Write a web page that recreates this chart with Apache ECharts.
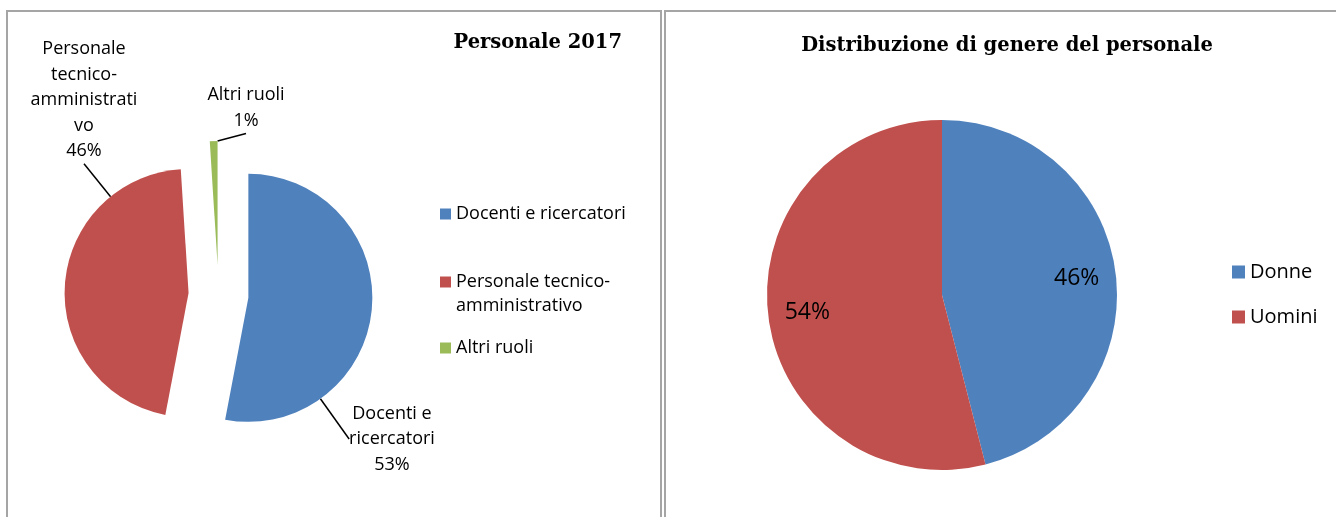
<!DOCTYPE html>
<html>
<head>
<meta charset="utf-8">
<script src="https://cdn.jsdelivr.net/npm/echarts@6/dist/echarts.min.js"></script>
<style>
  html, body { margin: 0; padding: 0; background: #fff; }
  #chart { width: 1336px; height: 517px; }
</style>
</head>
<body>
<div id="chart"></div>
<script>
// Personale 2017
const ruoli = ['Docenti e ricercatori', 'Personale tecnico-amministrativo', 'Altri ruoli'];
const valoriRuoli = [53, 46, 1];
const etichetteRuoli = ['Docenti e\nricercatori', 'Personale\ntecnico-\namministrati\nvo', 'Altri ruoli'];
// la riga vuota iniziale allinea l'icona alla prima riga del testo
const legendaRuoli = ['Docenti e ricercatori', '\nPersonale tecnico-\namministrativo', 'Altri ruoli'];

// Distribuzione di genere del personale
const generi = ['Donne', 'Uomini'];
const valoriGeneri = [46, 54];

const colori = ['#4f81bd', '#c0504d', '#9bbb59'];
const fontTesto = 'Open Sans';
const fontTitolo = 'DejaVu Serif';

const centroRuoli = [218.5, 295];
const esplosione = 30;
// posizione (centro) delle etichette esterne della prima torta
const posEtichette = [[392, 439], [84, 100], [246, 108]];
const legendaTop = [202, 246, 336];
const centroGeneri = [942, 295];

const chart = echarts.init(document.getElementById('chart'));

// torta "esplosa": una serie per spicchio, spostata lungo la bisettrice
const totaleRuoli = valoriRuoli.reduce((a, b) => a + b, 0);
let cumulato = 0;
const serieRuoli = ruoli.map((nome, k) => {
  const medio = (cumulato + valoriRuoli[k] / 2) / totaleRuoli * 2 * Math.PI;
  cumulato += valoriRuoli[k];
  return {
    type: 'pie',
    center: [centroRuoli[0] + esplosione * Math.sin(medio), centroRuoli[1] - esplosione * Math.cos(medio)],
    radius: 124,
    startAngle: 90,
    clockwise: true,
    silent: true,
    data: ruoli.map((n, i) => ({
      name: n,
      value: valoriRuoli[i],
      itemStyle: { color: i === k ? colori[i] : 'transparent' },
      label: { show: i === k },
      labelLine: { show: i === k }
    })),
    label: {
      position: 'inside',
      formatter: p => etichetteRuoli[p.dataIndex] + '\n' + Math.round(p.percent) + '%',
      fontFamily: fontTesto,
      fontSize: 18,
      lineHeight: 25.5,
      color: '#000',
      align: 'center'
    },
    labelLine: { length: 0, length2: 0, lineStyle: { color: '#000', width: 1.5 } },
    labelLayout: p => ({
      x: posEtichette[p.dataIndex][0],
      y: posEtichette[p.dataIndex][1],
      align: 'center',
      verticalAlign: 'middle'
    })
  };
});

const legendaBase = {
  orient: 'vertical',
  left: 440,
  padding: 0,
  icon: 'rect',
  itemWidth: 11,
  itemHeight: 11,
  selectedMode: false,
  formatter: n => legendaRuoli[ruoli.indexOf(n)],
  textStyle: { fontFamily: fontTesto, fontSize: 18, color: '#000', lineHeight: 24 }
};
const voceLegenda = i => [{ name: ruoli[i], itemStyle: { color: colori[i] } }];

const option = {
  animation: false,
  graphic: [
    { type: 'rect', z: -1, shape: { x: 7, y: 11, width: 654, height: 530 },
      style: { fill: 'none', stroke: '#a5a5a5', lineWidth: 2 } },
    { type: 'rect', z: -1, shape: { x: 665, y: 11, width: 700, height: 530 },
      style: { fill: 'none', stroke: '#a5a5a5', lineWidth: 2 } }
  ],
  title: [
    {
      text: 'Personale 2017',
      right: 714,
      top: 33,
      padding: 0,
      textStyle: { fontFamily: fontTitolo, fontWeight: 'bold', fontSize: 19.5, color: '#000' }
    },
    {
      text: 'Distribuzione di genere del personale',
      left: 1007,
      textAlign: 'center',
      top: 36,
      padding: 0,
      textStyle: { fontFamily: fontTitolo, fontWeight: 'bold', fontSize: 19.5, color: '#000' }
    }
  ],
  legend: [
    Object.assign({}, legendaBase, { data: voceLegenda(0), top: legendaTop[0] }),
    Object.assign({}, legendaBase, { data: voceLegenda(1), top: legendaTop[1] }),
    Object.assign({}, legendaBase, { data: voceLegenda(2), top: legendaTop[2] }),
    {
      data: generi,
      orient: 'vertical',
      left: 1232,
      top: 260,
      padding: 0,
      itemGap: 21,
      icon: 'rect',
      itemWidth: 13,
      itemHeight: 13,
      selectedMode: false,
      textStyle: { fontFamily: fontTesto, fontSize: 20, color: '#000', lineHeight: 24 }
    }
  ],
  series: serieRuoli.concat([
    {
      type: 'pie',
      center: centroGeneri,
      radius: 175,
      startAngle: 90,
      clockwise: true,
      silent: true,
      data: generi.map((n, i) => ({ name: n, value: valoriGeneri[i], itemStyle: { color: colori[i] } })),
      label: {
        show: true,
        position: 'inside',
        formatter: p => Math.round(p.percent) + '%',
        fontFamily: fontTesto,
        fontSize: 23,
        color: '#000'
      },
      labelLine: { show: false },
      // spinge le etichette interne a circa 3/4 del raggio
      labelLayout: p => {
        const r = p.labelRect;
        const lx = r.x + r.width / 2;
        const ly = r.y + r.height / 2;
        return {
          x: centroGeneri[0] + 1.5 * (lx - centroGeneri[0]),
          y: centroGeneri[1] + 1.5 * (ly - centroGeneri[1]),
          align: 'center',
          verticalAlign: 'middle'
        };
      }
    }
  ])
};

chart.setOption(option);
</script>
</body>
</html>
